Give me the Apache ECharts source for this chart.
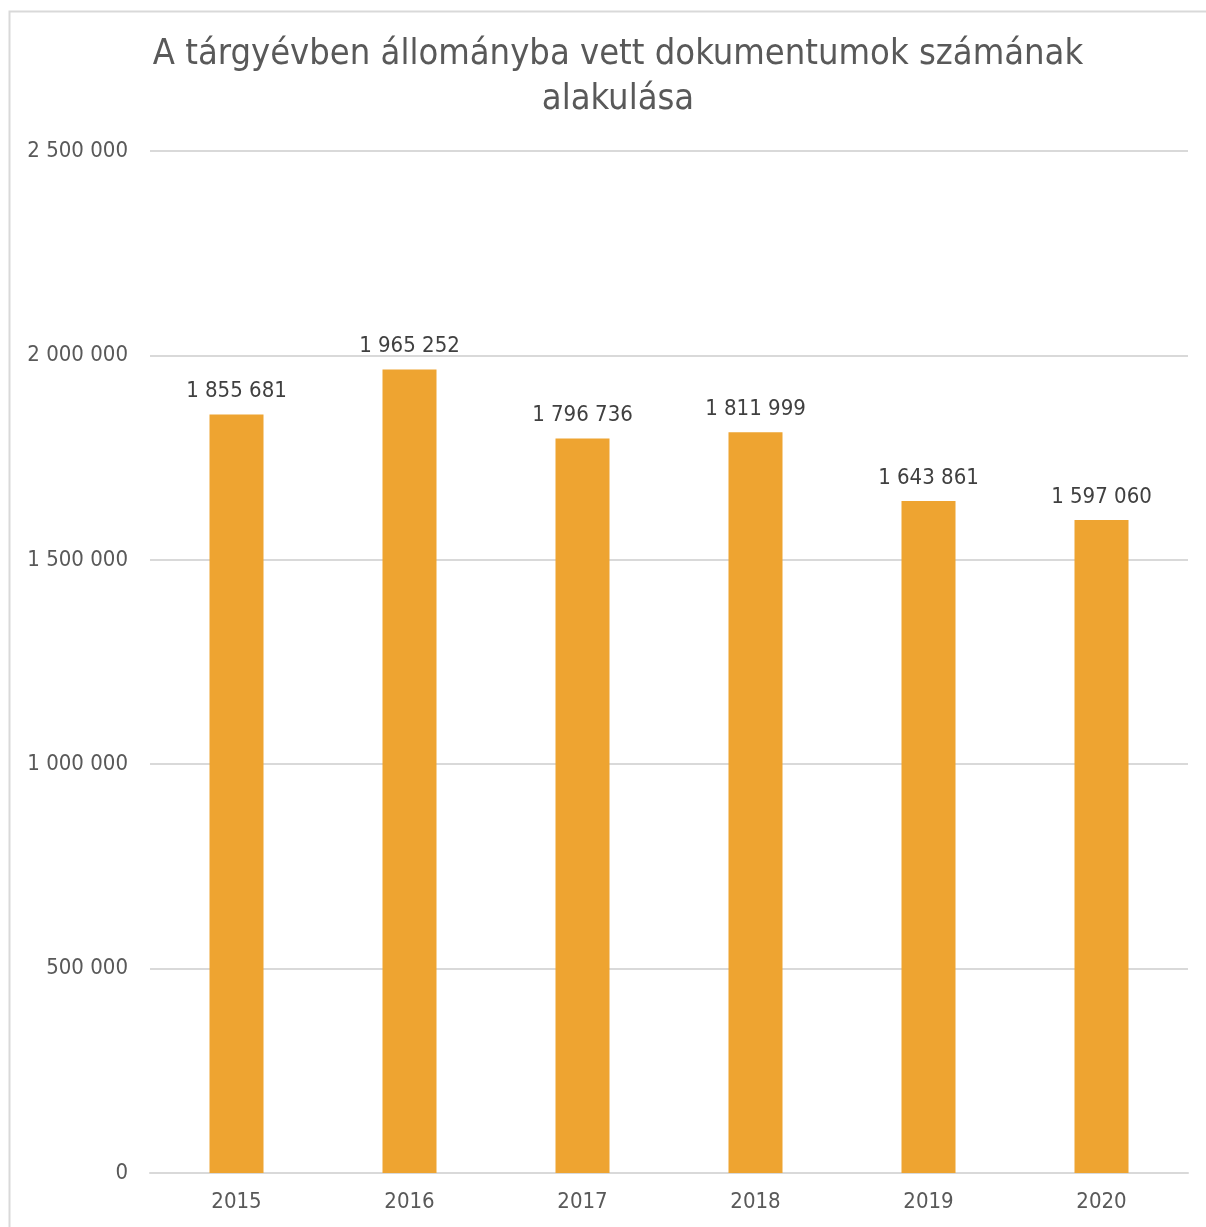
<!DOCTYPE html>
<html>
<head>
<meta charset="utf-8">
<script src="https://cdn.jsdelivr.net/npm/echarts@6/dist/echarts.min.js"></script>
<style>
  html, body { margin: 0; padding: 0; background: #fff; }
  #chart { width: 1206px; height: 1227px; }
</style>
</head>
<body>
<div id="chart"></div>
<script>
// adatok
var years = ['2015', '2016', '2017', '2018', '2019', '2020']
var docCounts = [1855681, 1965252, 1796736, 1811999, 1643861, 1597060]

function fmt(v) {
    return String(v).replace(/\B(?=(\d{3})+(?!\d))/g, ' ')
}

var chart = echarts.init(document.getElementById('chart'))
var font = 'DejaVu Sans Condensed'

chart.setOption({
    animation: false,
    title: {
        text: 'A tárgyévben állományba vett dokumentumok számának\nalakulása',
        left: 613,
        textAlign: 'center',
        top: 27,
        textStyle: {
            fontFamily: font,
            fontSize: 36,
            fontWeight: 'normal',
            color: '#595959',
            lineHeight: 45
        }
    },
    graphic: [{
        type: 'rect',
        shape: { x: 9.5, y: 11.5, width: 1210, height: 1230 },
        style: { fill: 'none', stroke: '#d9d9d9', lineWidth: 2 },
        silent: true
    }],
    grid: { left: 150, right: 18, top: 151, bottom: 54 },
    xAxis: {
        type: 'category',
        data: years,
        axisTick: { show: false },
        axisLine: { lineStyle: { color: '#d9d9d9', width: 2 } },
        axisLabel: { fontFamily: font, fontSize: 22, color: '#595959', margin: 18 }
    },
    yAxis: {
        type: 'value',
        min: 0,
        max: 2500000,
        interval: 500000,
        axisLine: { show: false },
        axisTick: { show: false },
        splitLine: { lineStyle: { color: '#d9d9d9', width: 2 } },
        axisLabel: {
            fontFamily: font, fontSize: 22, color: '#595959', margin: 22,
            formatter: fmt
        }
    },
    series: [{
        type: 'bar',
        data: docCounts,
        barWidth: 54,
        itemStyle: { color: '#EEA431' },
        label: {
            show: true,
            position: 'top',
            distance: 12,
            fontFamily: font,
            fontSize: 22,
            color: '#404040',
            formatter: function (p) { return fmt(p.value) }
        }
    }]
})
</script>
</body>
</html>
